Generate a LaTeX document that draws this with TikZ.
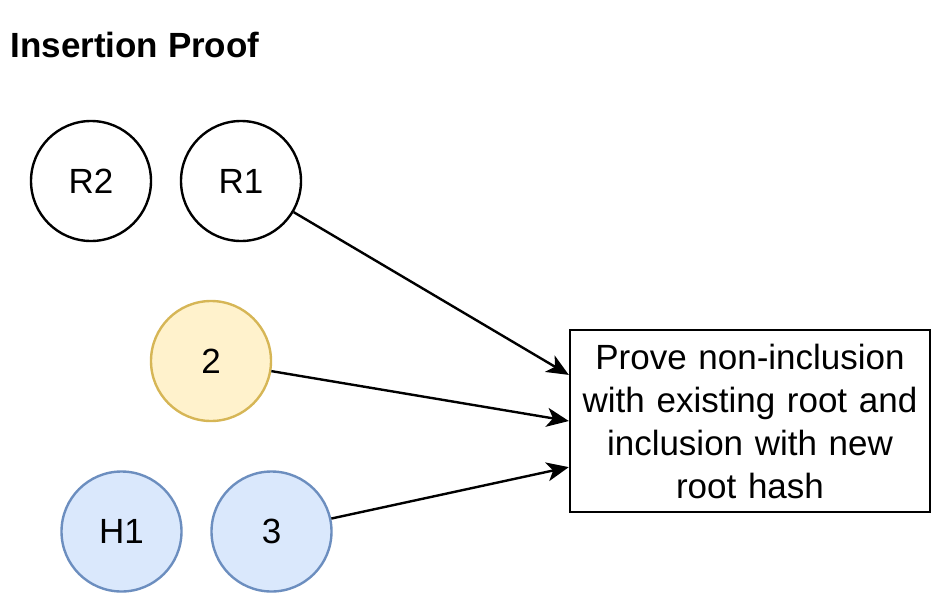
\documentclass[tikz,border=0pt]{standalone}
\usepackage{fontspec}
\setmainfont{Liberation Sans}
\usepackage{tikz}
\usetikzlibrary{arrows.meta,calc}
\definecolor{lemon}{HTML}{FFF2CC}
\definecolor{mustard}{HTML}{D6B656}
\definecolor{skyfill}{HTML}{DAE8FC}
\definecolor{steel}{HTML}{6C8EBF}
\tikzset{
  hashnode/.style={circle,draw,line width=2.4pt,minimum size=120pt,inner sep=0pt,
    font=\fontsize{35}{42}\selectfont},
  oldnode/.style={hashnode,fill=lemon,draw=mustard},
  newnode/.style={hashnode,fill=skyfill,draw=steel},
  proofbox/.style={draw,line width=2.4pt,minimum width=360pt,minimum height=182pt,
    inner sep=0pt,align=center,text width=355pt,font=\fontsize{35}{43}\selectfont},
  link/.style={-{Stealth[length=22pt,width=19pt,inset=6pt]},line width=2.4pt}
}

\begin{document}
\begin{tikzpicture}[x=1pt,y=-1pt]
    \useasboundingbox (0,0) rectangle (933,594);
    \node[anchor=base west,font=\fontsize{35}{42}\selectfont\bfseries] (title) at (7,57) {Insertion Proof};
    % roots
    \node[hashnode] (R2) at (91,181) {R2};
    \node[hashnode] (R1) at (241,181) {R1};
    \node[oldnode] (N2) at (211,361) {2};
    \node[newnode] (H1) at (121.5,531.5) {H1};
    \node[newnode] (N3) at (271.5,531.5) {3};
    \node[proofbox] (P) at (750,421) {Prove non-inclusion\\with existing root and\\inclusion with new\\root hash};
    \coordinate (in1) at ($(P.north west)!0.25!(P.south west)$);
    \coordinate (in3) at ($(P.north west)!0.75!(P.south west)$);
    \draw[link] (R1) -- (in1);
    \draw[link] (N2) -- (P.west);
    \draw[link] (N3) -- (in3);
\end{tikzpicture}
\end{document}
